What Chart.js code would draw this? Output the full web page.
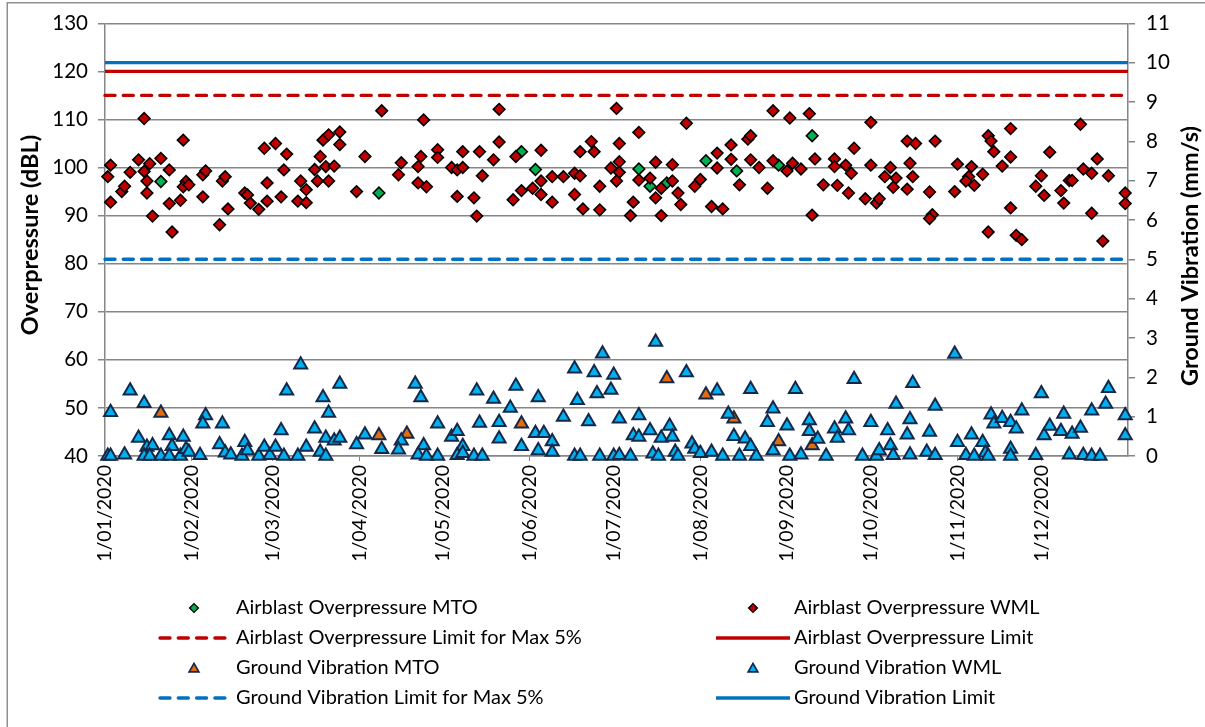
<!DOCTYPE html>
<html>
<head>
<meta charset="utf-8">
<title>Airblast Overpressure and Ground Vibration 2020</title>
<script src="https://cdn.jsdelivr.net/npm/chart.js@4.4.1/dist/chart.umd.min.js"></script>
<style>
  html, body { margin: 0; padding: 0; background: #ffffff; }
  #wrap { position: relative; width: 1205px; height: 727px; }
</style>
</head>
<body>
<div id="wrap"><canvas id="chart" width="1205" height="727"></canvas></div>
<script>
// Days are counted from 1 January 2020 (day 0).
const monthStartDays = [0, 31, 60, 91, 121, 152, 182, 213, 244, 274, 305, 335];
const monthTickLabels = ['1/01/2020', '1/02/2020', '1/03/2020', '1/04/2020', '1/05/2020', '1/06/2020',
  '1/07/2020', '1/08/2020', '1/09/2020', '1/10/2020', '1/11/2020', '1/12/2020'];
const yearEndDay = 366;

// Airblast overpressure (dBL) - MTO monitors
const opMtoDay = [20, 98, 149, 154, 191, 195, 201, 215, 226, 241, 253];
const opMtoDbl = [97.1, 94.7, 103.3, 99.6, 99.7, 96.1, 96.8, 101.4, 99.3, 100.5, 106.6];

// Airblast overpressure (dBL) - WML monitors
const opWmlDay = [2, 1, 2, 6, 7, 9, 12, 14, 14, 16, 15, 15, 20, 17, 23, 23, 24, 27, 28, 29, 28, 30, 35, 35, 36, 41, 44, 42, 43, 50,
  51, 52, 55, 58, 58, 57, 61, 65, 64, 63, 70, 72, 69, 72, 75, 77, 76, 80, 79, 82, 78, 80, 84, 84,
  93, 90, 99, 106, 105, 112, 113, 114, 112, 115, 119, 119, 124, 126, 128, 128, 126, 132, 133, 134, 135, 139, 141, 141, 146, 147,
  149, 156, 153, 156, 156, 160, 160, 164, 168, 170, 168, 171, 170, 174, 175, 177, 177,
  183, 184, 181, 184, 184, 183, 191, 191, 189, 188, 195, 197, 197, 199, 199, 203, 203, 205, 206, 208, 211, 213, 219, 219, 217, 221,
  224, 224, 227, 230, 231, 231, 234, 237, 239, 239, 244, 245, 246, 249, 252, 253, 254, 257, 261, 261, 262, 265, 266,
  267, 268, 272, 274, 274, 276, 277, 279, 281, 283, 282, 287, 290, 288, 289, 287, 297, 295, 296, 295, 305, 304, 310, 309, 308, 311,
  314, 316, 316, 317, 318, 321, 324, 324, 324, 326, 328, 333, 335, 336, 338, 342, 343, 345, 346, 349, 350, 353, 353, 355, 359, 357,
  365, 365];
const opWmlDbl = [100.5, 98.1, 92.8, 95.0, 96.1, 99.0, 101.6, 110.2, 99.2, 100.8, 97.2, 94.7, 101.9, 89.9, 99.5, 92.5, 86.6, 93.2, 105.7, 97.1,
  96.0, 96.4, 93.9, 98.5, 99.3, 88.1, 91.4, 97.2, 98.1, 94.7, 94.3, 92.6, 91.3, 96.8, 93.0, 104.0, 105.0, 102.8, 99.5, 93.9,
  97.2, 95.4, 93.0, 92.7, 99.6, 102.3, 97.2, 97.2, 100.2, 100.3, 105.7, 106.8, 107.4, 104.8,
  102.3, 95.0, 111.8, 101.0, 98.5, 100.2, 102.3, 109.9, 96.8, 96.0, 103.7, 102.1, 100.0, 99.5, 100.0, 103.3, 94.0, 93.7, 89.9, 103.3,
  98.3, 101.6, 105.3, 112.1, 93.3, 102.3, 95.2, 97.2, 95.7, 94.4, 103.6, 92.8, 98.1, 98.1, 98.8, 98.3, 94.4, 91.4, 103.3, 105.4,
  103.3, 96.1, 91.2,
  112.3, 105.0, 99.9, 101.2, 99.0, 97.2, 107.3, 97.4, 92.8, 90.0, 97.8, 101.1, 93.7, 95.7, 90.0, 100.6, 97.2, 94.7, 92.3, 109.2,
  96.1, 97.5, 103.0, 99.9, 91.9, 91.4, 104.7, 101.7, 96.4, 105.9, 106.6, 101.6, 100.0, 95.7, 101.4, 111.8, 99.3, 110.3, 100.9, 99.7,
  111.2, 90.1, 101.8, 96.4, 101.8, 100.2, 96.3, 100.5, 94.7,
  98.8, 104.0, 93.5, 109.4, 100.5, 92.6, 93.5, 98.1, 100.0, 97.8, 95.9, 105.5, 105.0, 100.9, 98.1, 95.5, 105.5, 94.9, 90.2, 89.4,
  100.7, 95.0, 100.2, 98.1, 97.2, 96.3, 98.6, 86.6, 106.6, 105.5, 103.3, 100.3, 108.1, 102.2, 91.6, 85.9, 85.0, 96.1, 98.3, 94.2,
  103.2, 95.2, 92.6, 97.3, 97.3, 109.0, 99.7, 98.8, 90.5, 101.8, 98.3, 84.7, 94.7, 92.5];

// Ground vibration (mm/s) - MTO monitors
const gvMtoDay = [20, 98, 108, 149, 201, 215, 225, 241, 253];
const gvMtoMms = [1.09, 0.52, 0.56, 0.82, 1.97, 1.56, 0.95, 0.37, 0.27];

// Ground vibration (mm/s) - WML monitors
const gvWmlDay = [2, 1, 2, 7, 9, 14, 12, 15, 17, 14, 16, 20, 23, 24, 23, 27, 28, 29, 30, 34, 36, 35, 42, 41, 43, 45, 49, 50, 51, 55,
  57, 59, 61, 63, 65, 64, 70, 69, 72, 75, 78, 80, 79, 77, 79, 82, 84, 84,
  90, 93, 99, 106, 105, 111, 113, 114, 112, 115, 119, 119, 124, 126, 128, 126, 128, 132, 135, 133, 134, 139, 141, 141, 145, 147,
  149, 154, 157, 155, 155, 160, 160, 164, 168, 169, 168, 170, 173, 175, 176, 178, 177,
  197, 182, 181, 184, 191, 189, 191, 195, 199, 202, 203, 208, 182, 184, 188, 196, 198, 204, 205, 210, 211, 213, 219, 217, 221, 223,
  225, 227, 229, 231, 231, 233, 237, 239, 239, 244, 247, 245, 249, 252, 252, 255, 258, 261, 262, 265, 266, 268,
  271, 274, 276, 277, 280, 281, 282, 283, 288, 287, 288, 289, 294, 295, 297, 297, 304, 305, 308, 310, 311, 314, 315, 316, 317, 318,
  321, 324, 326, 324, 324, 328, 333, 335, 336, 338, 342, 343, 345, 346, 349, 350, 353, 353, 356, 358, 359, 365, 365];
const gvWmlMms = [1.11, 0, 0, 0.03, 1.66, 1.34, 0.46, 0.23, 0.27, 0, 0, 0, 0.52, 0.25, 0, 0, 0.48, 0.17, 0.10, 0.02,
  1.03, 0.82, 0.82, 0.29, 0.08, 0.03, 0, 0.35, 0.14, 0, 0.23, 0.02, 0.23, 0.65, 1.66, 0, 2.32, 0, 0.23, 0.69,
  1.49, 1.09, 0.46, 0.10, 0, 0.39, 0.46, 1.83,
  0.29, 0.54, 0.17, 0.39, 0.16, 1.83, 1.49, 0.27, 0.03, 0, 0.82, 0, 0.48, 0.63, 0.25, 0.02, 0.07, 0, 0, 1.66,
  0.84, 1.45, 0.86, 0.44, 1.22, 1.78, 0.25, 0.58, 0.58, 1.49, 0.14, 0.37, 0.10, 0.99, 2.22, 1.42, 0, 0, 0.88, 2.12,
  1.59, 2.60, 0,
  2.90, 2.06, 1.68, 0.95, 1.03, 0.52, 0.48, 0.65, 0.46, 0.76, 0.48, 2.12, 0, 0.02, 0, 0.06, 0, 0.10, 0, 0.31,
  0.18, 0.07, 1.66, 0.10, 0, 1.07, 0.50, 0, 0.44, 0.25, 1.70, 0, 0.86, 1.20, 0.14, 0.77, 1.70, 0, 0.03, 0.90,
  0.63, 0.43, 0, 0.69, 0.46, 0.95, 0.65, 1.95,
  0, 0.86, 0, 0.14, 0.65, 0.27, 0.02, 1.32, 0.93, 0.54, 0.03, 1.85, 0.10, 0.61, 1.27, 0.02, 2.59, 0.35, 0.02, 0.54,
  0, 0.35, 0.08, 0, 1.05, 0.82, 0.96, 0.86, 0.69, 0.18, 0, 1.15, 0.02, 1.59, 0.52, 0.76, 0.63, 1.07, 0.03, 0.56,
  0.71, 0.02, 1.15, 0, 0, 1.32, 1.72, 1.03, 0.52];

// Compliance limits
const opLimitDbl = 120;
const opLimit5Dbl = 115;
const gvLimitMms = 10;
const gvLimit5Mms = 5;

const FONT = 'Lato, "Open Sans", "DejaVu Sans", sans-serif';
const TEXT = '#000000';
const AXIS_GREY = '#868686';

const pairs = (xs, ys) => xs.map((x, i) => ({ x, y: ys[i] }));
const flatLine = v => [{ x: 0, y: v }, { x: yearEndDay, y: v }];

const diamond = (fill) => ({
  showLine: false, pointStyle: 'rectRot', pointRadius: 5.8, pointHoverRadius: 5.8,
  pointBackgroundColor: fill, pointBorderColor: '#000000', pointBorderWidth: 1.6,
  backgroundColor: fill, borderColor: '#000000', borderWidth: 1.6
});
const triangle = (fill) => ({
  showLine: false, pointStyle: 'triangle', pointRadius: 7.5, pointHoverRadius: 7.5,
  pointBackgroundColor: fill, pointBorderColor: '#14294a', pointBorderWidth: 2,
  backgroundColor: fill, borderColor: '#14294a', borderWidth: 2
});
const limitLine = (color, dashed) => ({
  showLine: true, pointRadius: 0, pointHoverRadius: 0, borderColor: color, backgroundColor: color,
  borderWidth: 3.4, borderDash: dashed ? [10, 8.3] : [], borderCapStyle: dashed ? 'round' : 'butt', fill: false
});

const datasets = [
  { label: 'Airblast Overpressure MTO', data: pairs(opMtoDay, opMtoDbl), yAxisID: 'y', ...diamond('#00b050') },
  { label: 'Airblast Overpressure WML', data: pairs(opWmlDay, opWmlDbl), yAxisID: 'y', ...diamond('#c00000') },
  { label: 'Airblast Overpressure Limit for Max 5%', data: flatLine(opLimit5Dbl), yAxisID: 'y', ...limitLine('#c00000', true) },
  { label: 'Airblast Overpressure Limit', data: flatLine(opLimitDbl), yAxisID: 'y', ...limitLine('#c00000', false) },
  { label: 'Ground Vibration MTO', data: pairs(gvMtoDay, gvMtoMms), yAxisID: 'y2', ...triangle('#e46c0a') },
  { label: 'Ground Vibration WML', data: pairs(gvWmlDay, gvWmlMms), yAxisID: 'y2', ...triangle('#00b0f0') },
  { label: 'Ground Vibration Limit for Max 5%', data: flatLine(gvLimit5Mms), yAxisID: 'y2', ...limitLine('#0070c0', true) },
  { label: 'Ground Vibration Limit', data: flatLine(gvLimitMms), yAxisID: 'y2', ...limitLine('#0070c0', false) }
];
// later series sit on top of earlier ones
datasets.forEach((ds, i) => { ds.order = datasets.length - i; ds.clip = false; });

// white page with the chart-area frame
const frame = {
  id: 'frame',
  beforeDraw(chart) {
    const ctx = chart.ctx;
    ctx.save();
    ctx.fillStyle = '#ffffff';
    ctx.fillRect(0, 0, chart.width, chart.height);
    ctx.strokeStyle = '#8f8f8f';
    ctx.lineWidth = 1.5;
    ctx.strokeRect(7.25, 2.75, chart.width + 20, chart.height + 20);
    ctx.restore();
  }
};

// axis titles
const axisTitles = {
  id: 'axisTitles',
  afterDraw(chart) {
    const ctx = chart.ctx;
    ctx.save();
    ctx.fillStyle = TEXT;
    ctx.font = 'bold 23.5px ' + FONT;
    ctx.textAlign = 'center';
    ctx.textBaseline = 'middle';
    [[30, 235, 'Overpressure (dBL)'], [1190, 256, 'Ground Vibration (mm/s)']].forEach(([x, y, t]) => {
      ctx.save();
      ctx.translate(x, y);
      ctx.rotate(-Math.PI / 2);
      ctx.fillText(t, 0, 0);
      ctx.restore();
    });
    ctx.restore();
  }
};

// two-column legend below the axis labels
const twoColumnLegend = {
  id: 'twoColumnLegend',
  afterDraw(chart) {
    const ctx = chart.ctx;
    const rows = [608, 638, 668, 698];
    const cols = [
      { x0: 158, x1: 229, mark: 194, text: 236 },
      { x0: 716, x1: 790, mark: 753, text: 794 }
    ];
    chart.data.datasets.forEach((ds, i) => {
      const c = cols[i % 2];
      const y = rows[Math.floor(i / 2)];
      ctx.save();
      if (ds.showLine) {
        ctx.strokeStyle = ds.borderColor;
        ctx.lineWidth = ds.borderWidth;
        ctx.lineCap = ds.borderCapStyle;
        ctx.setLineDash(ds.borderDash);
        ctx.beginPath();
        ctx.moveTo(c.x0 + (ds.borderDash.length ? 2 : 0), y);
        ctx.lineTo(c.x1, y);
        ctx.stroke();
      } else {
        ctx.fillStyle = ds.pointBackgroundColor;
        ctx.strokeStyle = ds.pointBorderColor;
        ctx.lineWidth = ds.pointBorderWidth * 0.85;
        const r = ds.pointStyle === 'triangle' ? 5.6 : 4.4;
        Chart.helpers.drawPoint(ctx, { pointStyle: ds.pointStyle, radius: r, borderWidth: ctx.lineWidth, rotation: 0 }, c.mark, y + (ds.pointStyle === 'triangle' ? 1 : 0));
      }
      ctx.setLineDash([]);
      ctx.fillStyle = TEXT;
      ctx.font = '20px ' + FONT;
      ctx.textAlign = 'left';
      ctx.textBaseline = 'middle';
      ctx.fillText(ds.label, c.text, y);
      ctx.restore();
    });
  }
};

new Chart(document.getElementById('chart'), {
  type: 'scatter',
  data: { datasets },
  plugins: [frame, axisTitles, twoColumnLegend],
  options: {
    responsive: false,
    animation: false,
    events: [],
    layout: { padding: { top: 21, right: 0, bottom: 150, left: 0 } },
    plugins: { legend: { display: false }, tooltip: { enabled: false }, title: { display: false } },
    scales: {
      x: {
        type: 'linear',
        min: 0,
        max: yearEndDay,
        afterBuildTicks: s => { s.ticks = monthStartDays.map(v => ({ value: v })); },
        afterFit: s => { s.height = 121; },
        ticks: {
          autoSkip: false,
          minRotation: 90,
          maxRotation: 90,
          padding: 4,
          color: TEXT,
          font: { family: FONT, size: 19.5 },
          callback: (v, i) => monthTickLabels[i]
        },
        grid: { drawOnChartArea: false, drawTicks: true, tickLength: 5, color: AXIS_GREY, lineWidth: 1 },
        border: { display: true, color: AXIS_GREY, width: 1.5 }
      },
      y: {
        position: 'left',
        min: 40,
        max: 130,
        afterFit: s => { s.width = 105; },
        ticks: { stepSize: 10, padding: 10, color: TEXT, font: { family: FONT, size: 20.5 } },
        grid: { color: AXIS_GREY, lineWidth: 1.5, drawTicks: true, tickLength: 7 },
        border: { display: true, color: AXIS_GREY, width: 1.5 }
      },
      y2: {
        position: 'right',
        min: 0,
        max: 11,
        afterFit: s => { s.width = 77; },
        ticks: { stepSize: 1, padding: 11, color: TEXT, font: { family: FONT, size: 20.5 } },
        grid: { drawOnChartArea: false, drawTicks: true, tickLength: 7, color: AXIS_GREY, lineWidth: 1.5 },
        border: { display: true, color: AXIS_GREY, width: 1.5 }
      }
    }
  }
});
</script>
</body>
</html>
